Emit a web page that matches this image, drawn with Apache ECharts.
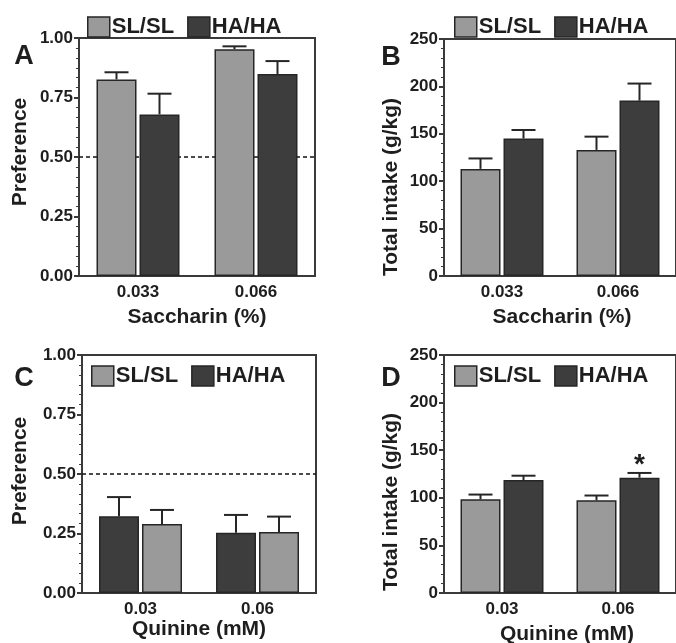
<!DOCTYPE html>
<html>
<head>
<meta charset="utf-8">
<script src="https://cdn.jsdelivr.net/npm/echarts@6/dist/echarts.min.js"></script>
<style>
html,body{margin:0;padding:0;background:#fff;}
#chart{width:676px;height:643px;}
</style>
</head>
<body>
<div id="chart"></div>
<script>
// ---- data ----
const saccharinCats = ['0.033', '0.066'];
const quinineCats = ['0.03', '0.06'];
const seriesNames = ['SL/SL', 'HA/HA'];

// Panel A: saccharin preference
const prefSacSL = [0.826, 0.953];
const prefSacSLerr = [0.030, 0.012];
const prefSacHA = [0.679, 0.849];
const prefSacHAerr = [0.087, 0.054];

// Panel B: saccharin total intake (g/kg)
const intakeSacSL = [113, 133];
const intakeSacSLerr = [11, 14];
const intakeSacHA = [145, 185];
const intakeSacHAerr = [9, 18];

// Panel C: quinine preference (HA/HA drawn first)
const prefQuiHA = [0.323, 0.253];
const prefQuiHAerr = [0.080, 0.075];
const prefQuiSL = [0.290, 0.256];
const prefQuiSLerr = [0.059, 0.065];

// Panel D: quinine total intake (g/kg)
const intakeQuiSL = [98.4, 97.4];
const intakeQuiSLerr = [5, 5];
const intakeQuiHA = [118.7, 121.1];
const intakeQuiHAerr = [4.5, 5];
const intakeQuiHAsig = ['', '*'];

const prefTicks = ['0.00', '0.25', '0.50', '0.75', '1.00'];
const intakeTicks = ['0', '50', '100', '150', '200', '250'];
const chanceLevel = 0.5;

// ---- style ----
const FONT = "'Liberation Sans', Arial, Helvetica, sans-serif";
const INK = '#1e1e1e';
const AXIS = '#3a3a3a';
const LIGHT = '#9a9a9a';
const DARK = '#3d3d3d';
const EDGE = '#262626';
const BAR_W = 40, BAR_GAP = 3;
const OFF = (BAR_W + BAR_GAP) / 2;
const CAP = 12;

const chart = echarts.init(document.getElementById('chart'), null, {renderer: 'canvas'});

const grids = [
  {left: 79, top: 38, width: 236, height: 238},
  {left: 444, top: 39, width: 237, height: 237},
  {left: 82, top: 355, width: 234, height: 238},
  {left: 444, top: 355, width: 237, height: 238}
];
const gridOpts = grids.map(g => Object.assign({show: true, borderColor: AXIS, borderWidth: 2, backgroundColor: 'transparent'}, g));

function xAxis(idx, cats) {
  return {
    type: 'category', gridIndex: idx, data: cats,
    axisLine: {show: true, lineStyle: {color: AXIS, width: 2}},
    axisTick: {show: false},
    axisLabel: {color: INK, fontFamily: FONT, fontWeight: 'bold', fontSize: 17, margin: 8},
    splitLine: {show: false}
  };
}
function yAxis(idx, ticks, minorSplit) {
  const max = parseFloat(ticks[ticks.length - 1]);
  const interval = parseFloat(ticks[1]) - parseFloat(ticks[0]);
  return {
    type: 'value', gridIndex: idx, min: 0, max: max, interval: interval,
    axisLine: {show: true, lineStyle: {color: AXIS, width: 2}},
    axisTick: {show: true, length: 5, lineStyle: {color: AXIS, width: 2}},
    minorTick: {show: true, splitNumber: minorSplit, length: 3, lineStyle: {color: AXIS, width: 1}},
    axisLabel: {color: INK, fontFamily: FONT, fontWeight: 'bold', fontSize: 17, margin: 6,
      formatter: v => { const i = Math.round(v / interval); return ticks[i]; }},
    splitLine: {show: false}
  };
}

function barSeries(name, idx, values, color, extra) {
  return Object.assign({
    type: 'bar', name: name, xAxisIndex: idx, yAxisIndex: idx, data: values,
    barWidth: BAR_W, barGap: (BAR_GAP / BAR_W * 100) + '%', z: 2,
    itemStyle: {color: color, borderColor: EDGE, borderWidth: 1.5},
    emphasis: {disabled: true}, animation: false
  }, extra || {});
}

function errSeries(idx, values, errs, sign, sig) {
  return {
    type: 'custom', xAxisIndex: idx, yAxisIndex: idx, z: 3, animation: false, silent: true,
    data: values.map((v, i) => [i, v, v + errs[i]]),
    encode: {x: 0, y: [1, 2]},
    renderItem: function (params, api) {
      const i = api.value(0);
      const p0 = api.coord([i, api.value(1)]);
      const p1 = api.coord([i, api.value(2)]);
      const x = p0[0] + sign * OFF;
      const st = {stroke: EDGE, lineWidth: 2};
      const children = [
        {type: 'line', shape: {x1: x, y1: p0[1], x2: x, y2: p1[1]}, style: st},
        {type: 'line', shape: {x1: x - CAP, y1: p1[1], x2: x + CAP, y2: p1[1]}, style: st}
      ];
      if (sig && sig[i]) {
        children.push({type: 'text', style: {text: sig[i], x: x, y: p1[1] + 6, align: 'center', verticalAlign: 'bottom',
          fill: INK, font: 'bold 28px ' + FONT}});
      }
      return {type: 'group', children: children};
    }
  };
}

function chanceLine() {
  return {
    silent: true, symbol: 'none', z: 1, label: {show: false}, animation: false,
    lineStyle: {color: '#111', type: [4, 3], width: 1.5},
    data: [{yAxis: chanceLevel}]
  };
}

function legend(left, top) {
  return {
    data: seriesNames, left: left, top: top, itemWidth: 22, itemHeight: 20, itemGap: 13,
    icon: 'rect', selectedMode: false,
    itemStyle: {borderColor: EDGE, borderWidth: 1.5},
    textStyle: {color: INK, fontFamily: FONT, fontWeight: 'bold', fontSize: 22, padding: [0, 0, 0, -3]}
  };
}

function txt(t, x, y, size, rot) {
  return {type: 'text', x: x, y: y, rotation: rot || 0,
    style: {text: t, align: 'center', verticalAlign: 'middle', fill: INK, font: 'bold ' + size + 'px ' + FONT}};
}

const option = {
  backgroundColor: '#fff',
  animation: false,
  grid: gridOpts,
  xAxis: [xAxis(0, saccharinCats), xAxis(1, saccharinCats), xAxis(2, quinineCats), xAxis(3, quinineCats)],
  yAxis: [yAxis(0, prefTicks, 6), yAxis(1, intakeTicks, 5), yAxis(2, prefTicks, 6), yAxis(3, intakeTicks, 5)],
  legend: [legend(82, 11), legend(449, 11), legend(86, 360), legend(449, 360)],
  series: [
    barSeries('SL/SL', 0, prefSacSL, LIGHT, {markLine: chanceLine()}),
    barSeries('HA/HA', 0, prefSacHA, DARK),
    errSeries(0, prefSacSL, prefSacSLerr, -1),
    errSeries(0, prefSacHA, prefSacHAerr, 1),

    barSeries('SL/SL', 1, intakeSacSL, LIGHT),
    barSeries('HA/HA', 1, intakeSacHA, DARK),
    errSeries(1, intakeSacSL, intakeSacSLerr, -1),
    errSeries(1, intakeSacHA, intakeSacHAerr, 1),

    barSeries('HA/HA', 2, prefQuiHA, DARK, {markLine: chanceLine()}),
    barSeries('SL/SL', 2, prefQuiSL, LIGHT),
    errSeries(2, prefQuiHA, prefQuiHAerr, -1),
    errSeries(2, prefQuiSL, prefQuiSLerr, 1),

    barSeries('SL/SL', 3, intakeQuiSL, LIGHT),
    barSeries('HA/HA', 3, intakeQuiHA, DARK),
    errSeries(3, intakeQuiSL, intakeQuiSLerr, -1),
    errSeries(3, intakeQuiHA, intakeQuiHAerr, 1, intakeQuiHAsig)
  ],
  graphic: [
    txt('A', 24, 57, 27), txt('B', 391, 58, 27), txt('C', 24, 379, 27), txt('D', 391, 379, 27),
    txt('Preference', 20, 152, 21, Math.PI / 2),
    txt('Total intake (g/kg)', 391, 187, 21, Math.PI / 2),
    txt('Preference', 20, 471, 21, Math.PI / 2),
    txt('Total intake (g/kg)', 391, 502, 21, Math.PI / 2),
    txt('Saccharin (%)', 197, 317, 21),
    txt('Saccharin (%)', 562, 317, 21),
    txt('Quinine (mM)', 199, 629, 21),
    txt('Quinine (mM)', 567, 634, 21)
  ]
};
chart.setOption(option);
</script>
</body>
</html>
